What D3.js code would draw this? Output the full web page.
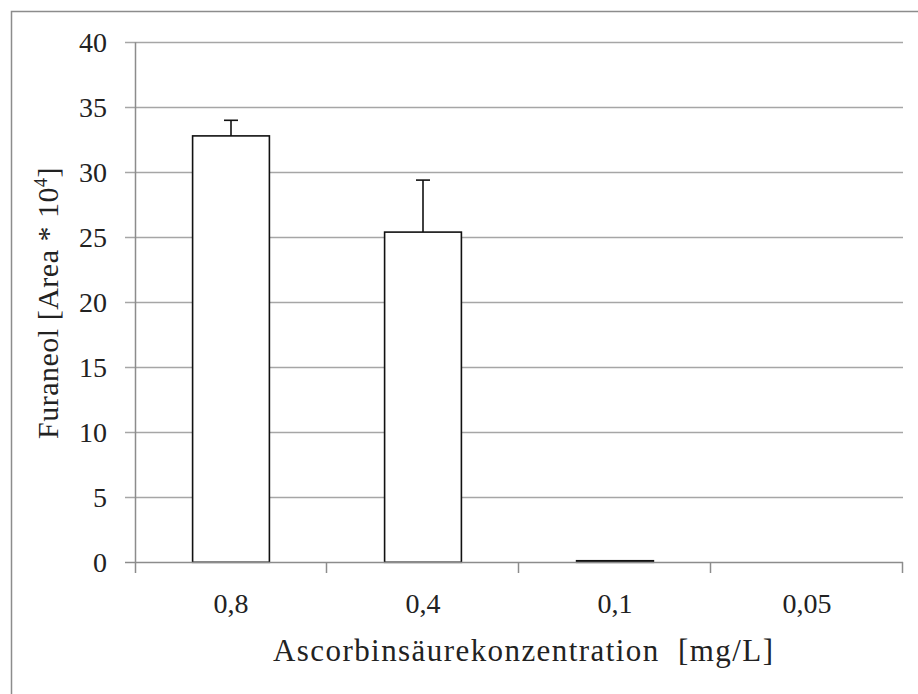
<!DOCTYPE html>
<html><head><meta charset="utf-8">
<script src="https://cdn.jsdelivr.net/npm/d3@7"></script>
<style>body{margin:0;background:#fff}svg{display:block}</style>
</head><body>
<script>
const categories = ["0,8","0,4","0,1","0,05"];
const values = [32.8, 25.4, 0.12, 0];
const errors = [1.2, 4.0, 0, 0];
const yTicks = [0,5,10,15,20,25,30,35,40];

const W=918,H=694;
const m={left:135,right:15,top:42.3,bottom:132};
const svg=d3.select("body").append("svg").attr("width",W).attr("height",H);
svg.append("rect").attr("width",W).attr("height",H).attr("fill","#fff");
// outer frame (left and top visible)
svg.append("path").attr("d",`M11.5,${H} V11.5 H${W}`).attr("fill","none").attr("stroke","#8c8c8c").attr("stroke-width",1.5);

const x=d3.scaleBand().domain(categories).range([m.left,903]).paddingInner(0.6).paddingOuter(0.3);
const xb=d3.scaleLinear().domain([0,categories.length]).range([m.left,903]);
const y=d3.scaleLinear().domain([0,40]).range([562.3,m.top]);
const font="'Liberation Serif','Times New Roman',serif";
const txt="#222";

// gridlines
svg.append("g").selectAll("line").data(yTicks.filter(d=>d>0)).join("line")
 .attr("x1",125).attr("x2",903).attr("y1",d=>Math.round(y(d))+0.5).attr("y2",d=>Math.round(y(d))+0.5)
 .attr("stroke","#a6a6a6").attr("stroke-width",1.5);
// y tick mark for 0
svg.append("line").attr("x1",125).attr("x2",m.left).attr("y1",Math.round(y(0))+0.5).attr("y2",Math.round(y(0))+0.5).attr("stroke","#8c8c8c").attr("stroke-width",1.5);
// y tick labels
svg.append("g").selectAll("text").data(yTicks).join("text")
 .attr("x",107).attr("y",d=>y(d)).attr("dy","0.34em").attr("text-anchor","end")
 .attr("font-family",font).attr("font-size",28).attr("fill",txt).text(d=>d);

// bars
svg.append("g").selectAll("rect").data(values.map((v,i)=>({c:categories[i],v})).filter(d=>d.v>0)).join("rect")
 .attr("x",d=>x(d.c)).attr("width",x.bandwidth()).attr("y",d=>y(d.v)).attr("height",d=>y(0)-y(d.v))
 .attr("fill","#fff").attr("stroke","#111").attr("stroke-width",1.6);
// error bars
const eb=values.map((v,i)=>({c:categories[i],v,e:errors[i]})).filter(d=>d.e>0);
const g=svg.append("g").attr("stroke","#111").attr("stroke-width",1.6);
g.selectAll(".ev").data(eb).join("line").attr("class","ev")
 .attr("x1",d=>x(d.c)+x.bandwidth()/2).attr("x2",d=>x(d.c)+x.bandwidth()/2)
 .attr("y1",d=>y(d.v)).attr("y2",d=>y(d.v+d.e));
g.selectAll(".ec").data(eb).join("line").attr("class","ec")
 .attr("x1",d=>x(d.c)+x.bandwidth()/2-7).attr("x2",d=>x(d.c)+x.bandwidth()/2+7)
 .attr("y1",d=>y(d.v+d.e)).attr("y2",d=>y(d.v+d.e));

// axes lines
svg.append("line").attr("x1",m.left).attr("x2",903).attr("y1",Math.round(y(0))+0.5).attr("y2",Math.round(y(0))+0.5).attr("stroke","#8c8c8c").attr("stroke-width",1.5);
svg.append("line").attr("x1",m.left+0.5).attr("x2",m.left+0.5).attr("y1",m.top).attr("y2",573).attr("stroke","#8c8c8c").attr("stroke-width",1.5);
// x tick marks at boundaries
svg.append("g").selectAll("line").data(d3.range(1,categories.length+1)).join("line")
 .attr("x1",d=>Math.round(xb(d))-0.5).attr("x2",d=>Math.round(xb(d))-0.5).attr("y1",562).attr("y2",573)
 .attr("stroke","#8c8c8c").attr("stroke-width",1.5);
// x labels
svg.append("g").selectAll("text").data(categories).join("text")
 .attr("x",d=>x(d)+x.bandwidth()/2).attr("y",613).attr("text-anchor","middle")
 .attr("font-family",font).attr("font-size",28).attr("fill",txt).text(d=>d);

// axis titles
svg.append("text").attr("x",273).attr("y",661)
 .attr("font-family",font).attr("font-size",31).attr("fill",txt).attr("xml:space","preserve")
 .attr("textLength",500).attr("lengthAdjust","spacing")
 .text("Ascorbinsäurekonzentration  [mg/L]");
const yt=svg.append("text").attr("transform","translate(58,303) rotate(-90)").attr("text-anchor","middle")
 .attr("font-family",font).attr("font-size",30).attr("fill",txt).attr("letter-spacing",0.5);
yt.append("tspan").text("Furaneol [Area * 10");
yt.append("tspan").attr("font-size",18).attr("dy",-11).text("4");
yt.append("tspan").attr("dy",11).text("]");
</script>
</body></html>
